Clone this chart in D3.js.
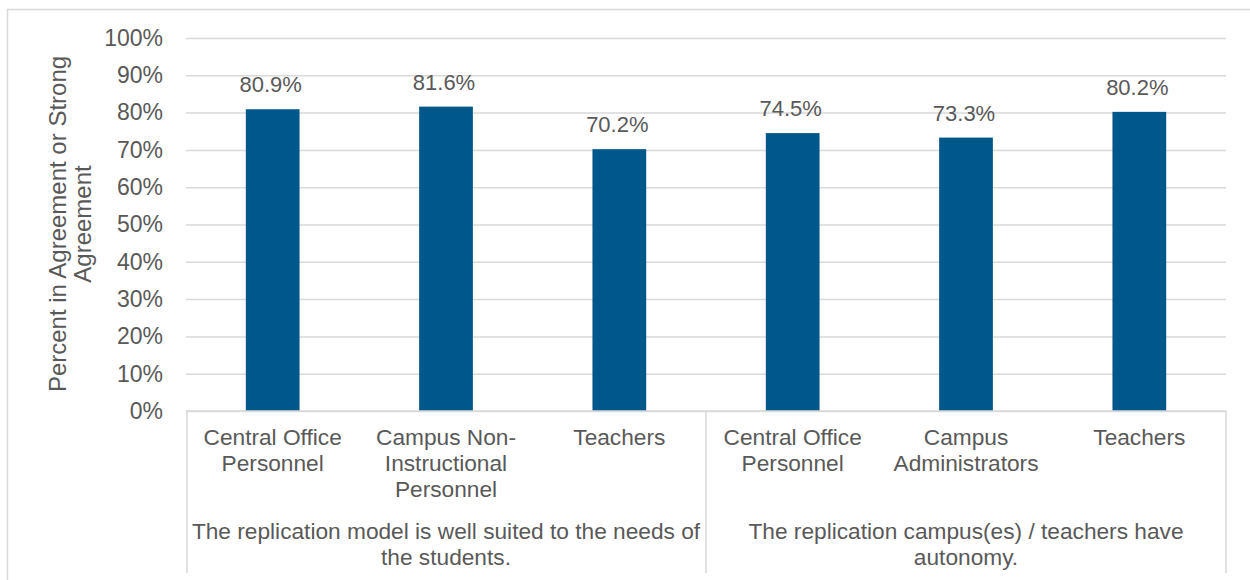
<!DOCTYPE html>
<html>
<head>
<meta charset="utf-8">
<script src="https://cdn.jsdelivr.net/npm/d3@7"></script>
<style>
  html, body { margin: 0; padding: 0; background: #ffffff; }
  svg { display: block; font-family: "Liberation Sans", Arial, sans-serif; }
</style>
</head>
<body>
<svg id="chart" width="1250" height="580"></svg>
<script>
// Survey results: share of respondents agreeing or strongly agreeing
const categories = [
  ["Central Office", "Personnel"],
  ["Campus Non-", "Instructional", "Personnel"],
  ["Teachers"],
  ["Central Office", "Personnel"],
  ["Campus", "Administrators"],
  ["Teachers"]
];
const values = [80.9, 81.6, 70.2, 74.5, 73.3, 80.2];
const groups = [
  { lines: ["The replication model is well suited to the needs of", "the students."], start: 0, end: 3 },
  { lines: ["The replication campus(es) / teachers have", "autonomy."], start: 3, end: 6 }
];
const yTicks = [0, 10, 20, 30, 40, 50, 60, 70, 80, 90, 100];
const yTitle = ["Percent in Agreement or Strong", "Agreement"];

const svg = d3.select("#chart");
const textColor = "#595959";
const gridColor = "#d9d9d9";
const barColor = "#00578a";

const plotLeft = 186, plotRight = 1226, plotTop = 38, plotBottom = 411;

// Outer frame
svg.append("rect")
  .attr("x", 7.5).attr("y", 9.5)
  .attr("width", 1260).attr("height", 600)
  .attr("fill", "none").attr("stroke", gridColor).attr("stroke-width", 1.5);

const idx = categories.map((d, i) => i);
const x = d3.scaleBand().domain(idx).range([plotLeft, plotRight]).paddingInner(0.69).paddingOuter(0.345);
const xOuter = d3.scaleBand().domain(idx).range([plotLeft, plotRight]);
const y = d3.scaleLinear().domain([0, 100]).range([plotBottom, plotTop]);

// Gridlines and tick labels
const yAxis = d3.axisLeft(y).tickValues(yTicks).tickSize(-(plotRight - plotLeft)).tickFormat(d => d + "%");
const gy = svg.append("g").attr("transform", `translate(${plotLeft},0)`).call(yAxis);
gy.select(".domain").remove();
gy.selectAll(".tick line").attr("stroke", gridColor).attr("stroke-width", 1.5);
gy.selectAll(".tick text")
  .attr("x", -23).attr("fill", textColor)
  .style("font-size", "23px").style("font-family", "Liberation Sans, Arial, sans-serif");

// Bars
svg.append("g").selectAll("rect").data(values).join("rect")
  .attr("x", (d, i) => x(i))
  .attr("width", x.bandwidth())
  .attr("y", d => y(d))
  .attr("height", d => y(0) - y(d))
  .attr("fill", barColor);

// Value labels
svg.append("g").selectAll("text").data(values).join("text")
  .attr("x", (d, i) => x(i) + x.bandwidth() / 2 - 2)
  .attr("y", d => y(d) - 17)
  .attr("text-anchor", "middle")
  .attr("fill", textColor)
  .style("font-size", "22px")
  .text(d => d.toFixed(1) + "%");

// Category axis baseline
svg.append("line")
  .attr("x1", plotLeft).attr("x2", plotRight).attr("y1", plotBottom).attr("y2", plotBottom)
  .attr("stroke", gridColor).attr("stroke-width", 1.5);

// Group separators
const sepBottom = 573;
const seps = [plotLeft + 1, xOuter(3), plotRight];
svg.append("g").selectAll("line").data(seps).join("line")
  .attr("x1", d => d).attr("x2", d => d)
  .attr("y1", plotBottom).attr("y2", sepBottom)
  .attr("stroke", gridColor).attr("stroke-width", 1.5);

// Category labels
const catG = svg.append("g");
categories.forEach((lines, i) => {
  const t = catG.append("text")
    .attr("text-anchor", "middle")
    .attr("fill", textColor)
    .style("font-size", "22.7px");
  lines.forEach((ln, j) => {
    t.append("tspan")
      .attr("x", xOuter(i) + xOuter.bandwidth() / 2)
      .attr("y", 445 + j * 26)
      .text(ln);
  });
});

// Group labels
groups.forEach(g => {
  const cx = (xOuter(g.start) + (g.end < categories.length ? xOuter(g.end) : plotRight)) / 2;
  const t = svg.append("text")
    .attr("text-anchor", "middle")
    .attr("fill", textColor)
    .style("font-size", "22.7px");
  g.lines.forEach((ln, j) => {
    t.append("tspan").attr("x", cx).attr("y", 539 + j * 26).text(ln);
  });
});

// Y axis title
const yt = svg.append("text")
  .attr("transform", "translate(0,224) rotate(-90)")
  .attr("text-anchor", "middle")
  .attr("fill", textColor)
  .style("font-size", "24px");
yTitle.forEach((ln, j) => {
  yt.append("tspan").attr("x", 0).attr("y", 66 + j * 25).text(ln);
});
</script>
</body>
</html>
